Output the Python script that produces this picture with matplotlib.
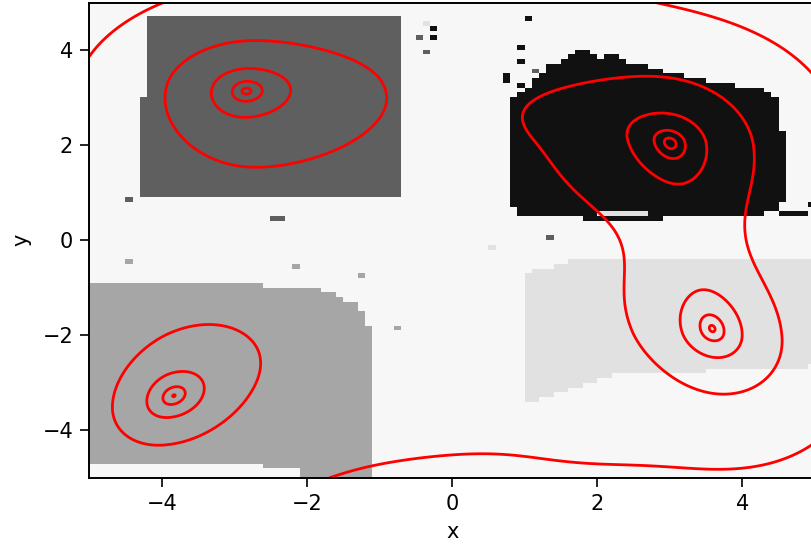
"""Cluster label map with the mixture density drawn over it as red contours."""
import matplotlib

matplotlib.use("Agg")
import matplotlib.pyplot as plt
import numpy as np
from matplotlib.colors import ListedColormap
from matplotlib.path import Path

# grey of each class: 0 noise, 1 upper left, 2 upper right, 3 lower left, 4 lower right
CLASS_COLORS = ["#f7f7f7", "#5f5f5f", "#111111", "#a6a6a6", "#e1e1e1"]

# outlines of the four label regions
REGION_UPPER_LEFT = [(-4.16, 4.68), (-0.74, 4.68), (-0.74, 0.87), (-4.35, 0.87), (-4.35, 1.42),
                     (-4.26, 1.42), (-4.26, 3.0), (-4.16, 3.0)]
REGION_UPPER_RIGHT = [(0.87, 0.47), (0.84, 0.85), (0.84, 2.26), (0.76, 2.35), (0.77, 2.96), (1.12, 3.32),
                      (1.35, 3.65), (1.58, 3.84), (1.76, 4.03), (1.88, 3.94), (2.04, 3.8), (2.2, 3.97),
                      (2.31, 3.8), (2.5, 3.73), (2.87, 3.55), (3.24, 3.42), (3.87, 3.25), (4.15, 3.23),
                      (4.34, 3.1), (4.48, 2.96), (4.56, 2.26), (4.59, 0.85), (4.42, 0.58), (3.87, 0.45)]
REGION_LOWER_LEFT = [(-5.0, -0.89), (-2.55, -0.89), (-2.55, -1.0), (-1.86, -1.0), (-1.58, -1.15),
                     (-1.36, -1.32), (-1.24, -1.57), (-1.14, -1.8), (-1.14, -5.0), (-2.1, -5.0),
                     (-2.1, -4.84), (-2.65, -4.84), (-2.65, -4.68), (-5.0, -4.68)]
REGION_LOWER_RIGHT = [(0.98, -3.46), (0.98, -1.15), (1.05, -0.66), (1.76, -0.41), (5.0, -0.41),
                      (5.0, -2.62), (4.79, -2.73), (2.25, -2.77), (2.04, -2.94), (1.49, -3.19)]

# stray cells (noise points given to a cluster)
SPECKLE_X = [1.0, 0.91, 0.91, 0.8, 0.8, 0.91, -0.29, -0.29, -0.5, -0.4, -0.4, 1.12, 4.55, 4.65, 4.75,
             4.85, 4.95, 1.31, 0.59, -4.41, -2.42, -2.32, -4.41, -2.19, -1.3, -0.71,
             1.85, 1.95, 2.05, 2.15, 2.25, 2.35, 2.45, 2.55, 2.65, 2.75, 2.85,
             2.05, 2.15, 2.25, 2.35, 2.45, 2.55, 2.65]
SPECKLE_Y = [4.6, 4.0, 3.73, 3.46, 3.36, 3.2, 4.41, 4.2, 4.2, 3.93, 4.54, 3.5, 0.5, 0.5, 0.5,
             0.5, 0.75, 0.0, -0.2, 0.81, 0.41, 0.41, -0.47, -0.58, -0.77, -1.87,
             0.45, 0.45, 0.45, 0.45, 0.45, 0.45, 0.45, 0.45, 0.45, 0.45, 0.45,
             0.55, 0.55, 0.55, 0.55, 0.55, 0.55, 0.55]
SPECKLE_CLASS = [2, 2, 2, 2, 2, 2, 2, 2, 1, 1, 4, 1, 2, 2, 2,
                 2, 2, 1, 4, 1, 1, 1, 3, 3, 3, 3,
                 2, 2, 2, 2, 2, 2, 2, 2, 2, 2, 2,
                 4, 4, 4, 4, 4, 4, 4]

# density bumps: four cluster bumps (upper left, lower left, upper right, lower right),
# then a broad flat centre bump, a bump left of the upper right cluster, a wide bump
# along the top, two small bumps near the bottom and a bridge between the right clusters
BUMP_X = [-2.89, -3.93, 3.04, 3.61, -1.5, 1.3, 0.2, 1.9, 3.35, -2.2]
BUMP_Y = [3.28, -3.43, 2.07, -1.96, -0.6, 2.85, 4.6, -4.25, 0.0, -5.2]
BUMP_SX_LEFT = [0.95, 0.70, 1.0, 0.84, 2.6, 0.8, 2.0, 1.1, 0.6, 0.9]
BUMP_SX_RIGHT = [0.95, 0.76, 1.0, 0.84, 2.6, 0.8, 2.0, 1.1, 0.6, 0.9]
BUMP_SY_LOW = [0.97, 0.85, 1.41, 1.15, 2.35, 0.6, 1.4, 0.6, 0.7, 0.6]
BUMP_SY_UP = [0.85, 0.90, 1.2, 1.32, 2.6, 0.6, 1.4, 0.6, 0.7, 0.6]
BUMP_RHO = [0.1, 0.2, -0.15, -0.15, 0.0, 0.0, 0.0, 0.0, 0.0, 0.0]
BUMP_KAPPA_RIGHT = [0.6, 0.0, 0.0, 0.0, 0.0, 0.0, 0.0, 0.0, 0.0, 0.0]
BUMP_KAPPA_LEFT = [0.0, 0.0, 0.3, 0.12, 0.0, 0.0, 0.0, 0.0, 0.0, 0.0]
BUMP_POWER = [1, 1, 1, 1, 2, 1, 1, 1, 1, 1]
BUMP_TAIL_UP = [0.0, 0.0, 0.12, 0.0, 0.0, 0.0, 0.0, 0.0, 0.0, 0.0]
EXTRA_AMP = [0.5, 0.13, 0.08, 0.07, 0.1, 0.045]
CLUSTER_PEAK = [1.1212, 1.1138, 1.1331, 1.1292]

LEVELS = [0.06, 0.60, 1.009, 1.112, 1.1308]
TICKS = [-4, -2, 0, 2, 4]


def bump_shape(i, gx, gy):
    dx = gx - BUMP_X[i]
    dy = gy - BUMP_Y[i]
    u = dx / np.where(dx >= 0, BUMP_SX_RIGHT[i], BUMP_SX_LEFT[i])
    v = dy / np.where(dy >= 0, BUMP_SY_UP[i], BUMP_SY_LOW[i])
    r = BUMP_RHO[i]
    kappa = np.where(u >= 0, BUMP_KAPPA_RIGHT[i], BUMP_KAPPA_LEFT[i])
    uu = u * u / (1 + kappa * np.abs(u))
    e = (uu - 2 * r * u * v + v * v) / (2 * (1 - r * r))
    e = e ** BUMP_POWER[i]
    half_v = 0.5 * v * v
    e = e + BUMP_TAIL_UP[i] * np.where(v > 0, half_v * half_v, 0.0)
    return np.exp(-e)


def bump_amplitudes():
    n_main = len(CLUSTER_PEAK)
    cx = BUMP_X[:n_main]
    cy = BUMP_Y[:n_main]
    # cluster bump heights chosen so every cluster centre reaches its peak value
    g = np.array([[bump_shape(j, cx[i], cy[i]) for j in range(n_main)] for i in range(n_main)])
    extra = np.array([sum(EXTRA_AMP[k] * bump_shape(n_main + k, cx[i], cy[i]) for k in range(len(EXTRA_AMP)))
                      for i in range(n_main)])
    return list(np.linalg.solve(g, np.array(CLUSTER_PEAK) - extra)) + EXTRA_AMP


def density(gx, gy, amps):
    return sum(a * bump_shape(i, gx, gy) for i, a in enumerate(amps))


def label_grid(n=100):
    centres = np.linspace(-5 + 5.0 / n, 5 - 5.0 / n, n)
    gx, gy = np.meshgrid(centres, centres)
    pts = np.column_stack([gx.ravel(), gy.ravel()])
    labels = np.zeros((n, n), dtype=int)
    regions = [(REGION_UPPER_LEFT, 1), (REGION_UPPER_RIGHT, 2), (REGION_LOWER_LEFT, 3), (REGION_LOWER_RIGHT, 4)]
    for poly, cls in regions:
        inside = Path(poly).contains_points(pts).reshape(n, n)
        labels[inside] = cls
    for x, y, cls in zip(SPECKLE_X, SPECKLE_Y, SPECKLE_CLASS):
        ix = min(int((x + 5) / 10 * n), n - 1)
        iy = min(int((y + 5) / 10 * n), n - 1)
        labels[iy, ix] = cls
    return labels


plt.rcParams["font.family"] = "DejaVu Sans"
fig = plt.figure(figsize=(8.11, 5.48), dpi=100)
ax = fig.add_axes([0.110, 0.128, 0.895, 0.867])

ax.imshow(label_grid(), origin="lower", extent=(-5, 5, -5, 5), cmap=ListedColormap(CLASS_COLORS),
          vmin=-0.5, vmax=4.5, interpolation="nearest", aspect="auto")

grid = np.linspace(-5, 5, 501)
gx, gy = np.meshgrid(grid, grid)
ax.contour(gx, gy, density(gx, gy, bump_amplitudes()), levels=LEVELS, colors="red", linewidths=2.0)

ax.set_xlim(-5, 5)
ax.set_ylim(-5, 5)
ax.set_xticks(TICKS)
ax.set_yticks(TICKS)
ax.tick_params(labelsize=15, length=6.5, width=1.2, pad=5)
for spine in ax.spines.values():
    spine.set_linewidth(1.4)
ax.set_xlabel("x", fontsize=15, labelpad=6)
ax.set_ylabel("y", fontsize=15, labelpad=8)

fig.savefig("out.png", dpi=100)
plt.close(fig)
